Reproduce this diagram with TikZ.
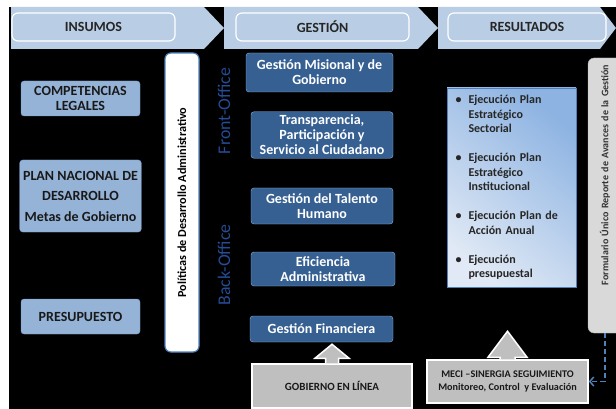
\documentclass[tikz,border=0pt]{standalone}
\usepackage{fontspec}
\setmainfont{Carlito}
\usetikzlibrary{arrows.meta}

\definecolor{bandblue}{HTML}{B9CDE5}
\definecolor{inblue}{HTML}{95B3D7}
\definecolor{inborder}{HTML}{7A9CC8}
\definecolor{gesblue}{HTML}{366092}
\definecolor{gesborder}{HTML}{8EB4E3}
\definecolor{officeblue}{HTML}{254C94}
\definecolor{resdark}{HTML}{8DB3E2}
\definecolor{reslight}{HTML}{E0E9F5}
\definecolor{resborder}{HTML}{4F81BD}
\definecolor{boxgray}{HTML}{BFBFBF}
\definecolor{formgray}{HTML}{D9D9D9}

\newcommand{\bul}{\makebox[13pt][l]{\textbullet}}

\begin{document}
\begin{tikzpicture}
  [x={(1pt,0pt)},y={(0pt,-1pt)},
   hdr/.style={draw=white,line width=1.2pt,fill=bandblue,rounded corners=6pt,minimum height=28pt,
     font=\fontsize{14}{16}\bfseries,text=black!85},
   inbox/.style={draw=inborder,fill=inblue,rounded corners=3pt,minimum width=119pt,align=center,
     font=\fontsize{14}{15}\bfseries,text=black!90},
   gbox/.style={draw=gesborder,fill=gesblue,rounded corners=3pt,align=center,text=white,
     font=\fontsize{14}{15}\bfseries},
   polbox/.style={draw=resborder,fill=white,line width=1.2pt,rounded corners=6pt,rotate=90,
     minimum width=299pt,minimum height=34pt,font=\fontsize{12.2}{14}\bfseries},
   office/.style={rotate=90,text=officeblue,font=\fontsize{17.8}{20}\selectfont},
   resbox/.style={draw=resborder,line width=0.8pt,top color=resdark,bottom color=reslight,shading angle=-40,
     minimum width=129pt,minimum height=199pt,text width=112pt,align=left,
     font=\fontsize{12}{14.5}\bfseries,text=black!85},
   greybox/.style={draw=white,line width=1.5pt,fill=boxgray,align=center,text=black!90},
   formbox/.style={draw=gray!60!white,fill=formgray,rounded corners=6pt,rotate=90,
     minimum width=275pt,minimum height=34pt,text width=261pt,align=right,
     font=\fontsize{10}{12}\bfseries,text=black!80},
   blockarr/.style={draw=white,line width=1.5pt,fill=boxgray,line join=miter},
   dasharr/.style={draw=resborder,line width=1.5pt,dash pattern=on 5pt off 3pt,
     -{Straight Barb[length=4pt,width=9pt]}}]

  \clip (0,0) rectangle (616,409);
  \fill[white] (0,0) rectangle (616,409);
  \fill[black] (9,7) rectangle (616,409);

  % process band
  \foreach \xa/\xb/\xc in {11/204/224, 224/418/438, 438/600/616}
    \fill[bandblue] (\xa,7) -- (\xb,7) -- (\xc,28) -- (\xb,49) -- (\xa,49) -- cycle;

  \node[hdr,minimum width=163pt] (insumos) at (93.5,27) {INSUMOS};
  \node[hdr,minimum width=173pt] (gestion) at (322.5,27) {GESTIÓN};
  \node[hdr,minimum width=158pt] (resultados) at (527,27) {RESULTADOS};

  % insumos
  \node[inbox,minimum height=35pt] (comp) at (80.5,98.5) {COMPETENCIAS\\LEGALES};
  \node[inbox,minimum height=72pt,font=\fontsize{14}{20.5}\bfseries] (pnd) at (80.5,196)
    {PLAN NACIONAL DE\\DESARROLLO\\Metas de Gobierno};
  \node[inbox,minimum height=35pt] (pres) at (80.5,316.5) {PRESUPUESTO};

  \node[polbox] (pol) at (182,202.5) {Políticas de Desarrollo Administrativo};

  \node[office] (front) at (224,111) {Front-Office};
  \node[office] (back) at (224,265) {Back-Office};

  % gestion
  \node[gbox,minimum width=147pt,minimum height=39pt] (misional) at (319.5,72.5) {Gestión Misional y de\\Gobierno};
  \node[gbox,minimum width=142pt,minimum height=44pt] (transp) at (322,135)
    {Transparencia,\\Participación y\\Servicio al Ciudadano};
  \node[gbox,minimum width=142pt,minimum height=36pt] (talento) at (322,206) {Gestión del Talento\\Humano};
  \node[gbox,minimum width=144pt,minimum height=34pt] (eficiencia) at (323,269) {Eficiencia\\Administrativa};
  \node[gbox,minimum width=143pt,minimum height=26pt] (financiera) at (321.5,329) {Gestión Financiera};

  \node[greybox,minimum width=160pt,minimum height=44pt,font=\fontsize{11}{13}\bfseries] (gel) at (332,386)
    {GOBIERNO EN LÍNEA};

  % resultados
  \node[resbox] (res) at (511.5,187.5) {%
    \bul Ejecución Plan\\ \hspace*{13pt}Estratégico\\ \hspace*{13pt}Sectorial\\[14.5pt]
    \bul Ejecución Plan\\ \hspace*{13pt}Estratégico\\ \hspace*{13pt}Institucional\\[14.5pt]
    \bul Ejecución Plan de\\ \hspace*{13pt}Acción Anual\\[14.5pt]
    \bul Ejecución\\ \hspace*{13pt}presupuestal};

  \node[formbox] (form) at (605,195.5) {Formulario Único Reporte de Avances de la Gestión};

  \node[greybox,minimum width=161pt,minimum height=43pt,font=\fontsize{10.2}{12.5}\bfseries] (meci) at (507.5,381.5)
    {MECI –SINERGIA SEGUIMIENTO\\Monitoreo, Control~ y Evaluación};

  % connectors
  \draw[blockarr] ([xshift=-6.5pt]gel.north) -- ++(0,-5) -- ++(-10.5,0) -- ([yshift=19pt]gel.north)
    -- ([xshift=17pt,yshift=5pt]gel.north) -- ++(-10.5,0) -- ([xshift=6.5pt]gel.north);
  \draw[blockarr] ([xshift=-7.5pt]meci.north) -- ++(0,-2) -- ++(-12,0) -- ([yshift=28pt]meci.north)
    -- ([xshift=19.5pt,yshift=2pt]meci.north) -- ++(-12,0) -- ([xshift=7.5pt]meci.north);
  \draw[dasharr] (form.west) |- (meci.east);

\end{tikzpicture}
\end{document}
